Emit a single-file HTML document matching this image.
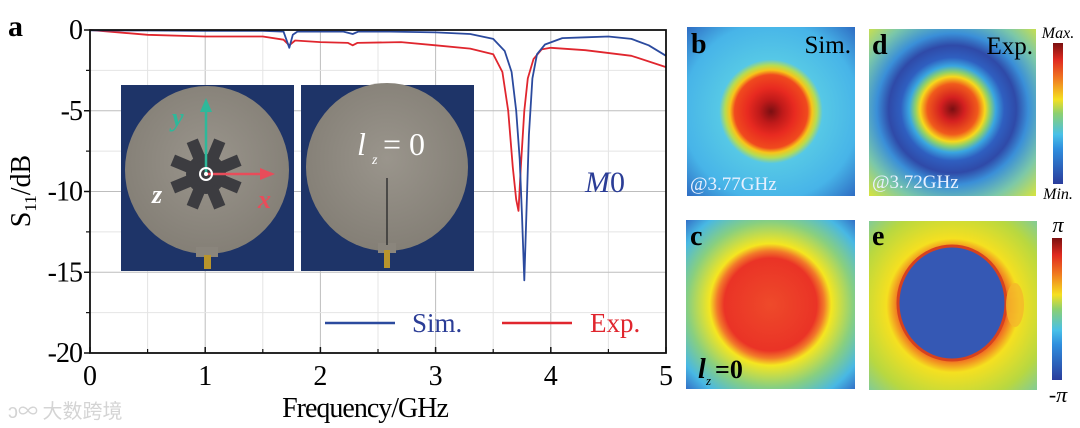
<!DOCTYPE html>
<html><head><meta charset="utf-8"><style>
html,body{margin:0;padding:0;background:#fff;width:1080px;height:428px;overflow:hidden}
svg{display:block;font-family:"Liberation Serif",serif}
</style></head><body>
<svg width="1080" height="428" viewBox="0 0 1080 428">
<defs>
<radialGradient id="gb" cx="50%" cy="50%" r="70%">
<stop offset="0" stop-color="#7a0f12"/><stop offset="0.1" stop-color="#c01a1a"/><stop offset="0.2" stop-color="#e82a20"/><stop offset="0.31" stop-color="#f04a1e"/><stop offset="0.35" stop-color="#f7c51a"/><stop offset="0.39" stop-color="#b8dc50"/><stop offset="0.44" stop-color="#56c8e6"/><stop offset="0.75" stop-color="#47b4e8"/><stop offset="1" stop-color="#2f6fc4"/></radialGradient>
<radialGradient id="gd" cx="50%" cy="48%" r="72%">
<stop offset="0" stop-color="#7a0f12"/><stop offset="0.1" stop-color="#d42020"/><stop offset="0.21" stop-color="#f05a1c"/><stop offset="0.27" stop-color="#f7d81c"/><stop offset="0.31" stop-color="#8fd06a"/><stop offset="0.36" stop-color="#3aa6e0"/><stop offset="0.43" stop-color="#2f5fc0"/><stop offset="0.53" stop-color="#2f4aa8"/><stop offset="0.63" stop-color="#3a8fd8"/><stop offset="0.8" stop-color="#7cc8a8"/><stop offset="1" stop-color="#d8e43c"/></radialGradient>
<radialGradient id="gc" cx="50%" cy="50%" r="72%">
<stop offset="0" stop-color="#ee4a2a"/><stop offset="0.38" stop-color="#ea3326"/><stop offset="0.44" stop-color="#f2782a"/><stop offset="0.5" stop-color="#f5e620"/><stop offset="0.68" stop-color="#88cf80"/><stop offset="0.85" stop-color="#48b8e4"/><stop offset="1" stop-color="#2f66c2"/></radialGradient>
<radialGradient id="ge" cx="50%" cy="50%" r="72%">
<stop offset="0" stop-color="#d63a1e"/><stop offset="0.45" stop-color="#f06a22"/><stop offset="0.55" stop-color="#f5e020"/><stop offset="0.8" stop-color="#b8d840"/><stop offset="1" stop-color="#7ccaa0"/></radialGradient>
<linearGradient id="cb" x1="0" y1="1" x2="0" y2="0">
<stop offset="0" stop-color="#2a3c9c"/><stop offset="0.25" stop-color="#2f8ede"/><stop offset="0.35" stop-color="#48c0e8"/><stop offset="0.5" stop-color="#8cd070"/><stop offset="0.6" stop-color="#f5e020"/><stop offset="0.75" stop-color="#f07820"/><stop offset="0.88" stop-color="#e02a20"/><stop offset="1" stop-color="#7a1010"/></linearGradient>
<radialGradient id="plate" cx="50%" cy="45%" r="60%"><stop offset="0" stop-color="#9a958c"/><stop offset="1" stop-color="#827d74"/></radialGradient>
</defs>

<g id="chart">
<g id="grid"></g>
<g id="photos">
 <rect x="121" y="85" width="173" height="186" fill="#1e3468"/>
 <ellipse cx="207" cy="170" rx="82" ry="84" fill="url(#plate)"/>
 <rect x="196" y="247" width="22" height="10" fill="#8a857c"/>
 <rect x="204" y="255" width="7" height="14" fill="#b8942c"/>
 <g transform="translate(206,174)" fill="#3c3c40">
  <circle r="20"/>
  <g id="spokes"></g>
 </g>
 <line x1="206" y1="174" x2="206" y2="108" stroke="#2eb89a" stroke-width="2.5"/>
 <polygon points="200,112 212,112 206,98" fill="#2eb89a"/>
 <line x1="206" y1="174" x2="263" y2="174" stroke="#e84c5a" stroke-width="2.5"/>
 <polygon points="260,168 260,180 275,174" fill="#e84c5a"/>
 <circle cx="206" cy="174" r="6" fill="none" stroke="#fff" stroke-width="2"/>
 <circle cx="206" cy="174" r="2" fill="#fff"/>
 <text x="172" y="126" font-size="26" font-style="italic" font-weight="bold" fill="#2eb89a">y</text>
 <text x="258" y="208" font-size="26" font-style="italic" font-weight="bold" fill="#e84c5a">x</text>
 <text x="152" y="203" font-size="26" font-style="italic" font-weight="bold" fill="#fff">z</text>
 <rect x="301" y="85" width="173" height="186" fill="#1e3468"/>
 <ellipse cx="387" cy="167" rx="81" ry="84" fill="url(#plate)"/>
 <rect x="378" y="243" width="18" height="10" fill="#8a857c"/>
 <rect x="384" y="250" width="6" height="18" fill="#b8942c"/>
 <line x1="387" y1="178" x2="387" y2="245" stroke="#333" stroke-width="1.5"/>
 <text x="357" y="155" font-size="32" font-style="italic" fill="#fff">l</text>
 <text x="372" y="164" font-size="14" font-style="italic" fill="#fff">z</text>
 <text x="383" y="155" font-size="32" fill="#fff">= 0</text>
</g>
<g id="lines"></g>
<rect x="90" y="30" width="576" height="323" fill="none" stroke="#111" stroke-width="1.8"/>
<g id="axes"></g>
<text x="585" y="192" font-size="30" font-style="italic" fill="#2b3d96">M<tspan font-style="normal">0</tspan></text>
<g>
 <line x1="325" y1="323" x2="395" y2="323" stroke="#2b4a9e" stroke-width="2.5"/>
 <text x="412" y="332" font-size="27" fill="#2b3d96">Sim.</text>
 <line x1="502" y1="323" x2="572" y2="323" stroke="#e0262e" stroke-width="2.5"/>
 <text x="590" y="332" font-size="27" fill="#e0262e">Exp.</text>
</g>
<text x="8" y="36" font-size="30" font-weight="bold">a</text>
<text x="365" y="417" font-size="28" text-anchor="middle" letter-spacing="-1">Frequency/GHz</text>
<text transform="translate(30,191) rotate(-90)" font-size="28" text-anchor="middle">S<tspan font-size="17" dy="6">11</tspan><tspan dy="-6">/dB</tspan></text>
<text x="8" y="418" font-size="20" fill="#d4d4d4" font-family="'Noto Sans CJK SC',sans-serif">ↄ∞ 大数跨境</text>
</g>

<rect x="687" y="27" width="168" height="169" fill="url(#gb)"/>
<text x="691" y="53" font-size="28" font-weight="bold">b</text>
<text x="851" y="53" font-size="25" text-anchor="end">Sim.</text>
<text x="690" y="190" font-size="19" fill="#e8f0ff">@3.77GHz</text>
<rect x="869" y="29" width="167" height="167" fill="url(#gd)"/>
<text x="872" y="54" font-size="28" font-weight="bold">d</text>
<text x="1033" y="54" font-size="25" text-anchor="end">Exp.</text>
<text x="872" y="188" font-size="19" fill="#e8f0ff">@3.72GHz</text>
<rect x="1053" y="43" width="10" height="141" fill="url(#cb)"/>
<text x="1058" y="38" font-size="16" font-style="italic" text-anchor="middle">Max.</text>
<text x="1058" y="199" font-size="16" font-style="italic" text-anchor="middle">Min.</text>
<rect x="686" y="220" width="169" height="169" fill="url(#gc)"/>
<text x="690" y="245" font-size="28" font-weight="bold">c</text>
<text x="698" y="378" font-size="28" font-weight="bold" font-style="italic">l</text>
<text x="706" y="385" font-size="13" font-style="italic">z</text>
<text x="715" y="378" font-size="26" font-weight="bold">=0</text>
<rect x="869" y="221" width="168" height="169" fill="url(#ge)"/>
<ellipse cx="952" cy="303" rx="54" ry="57" fill="#3558b4" stroke="#d6421e" stroke-width="3"/>
<ellipse cx="1015" cy="305" rx="9" ry="22" fill="#f4b82a" opacity="0.8"/>
<text x="872" y="245" font-size="28" font-weight="bold">e</text>
<rect x="1052" y="238" width="10" height="142" fill="url(#cb)"/>
<text x="1058" y="232" font-size="22" font-style="italic" text-anchor="middle">π</text>
<text x="1058" y="402" font-size="22" font-style="italic" text-anchor="middle">-π</text>
</svg>
<script>
const xTicks=[0,1,2,3,4,5];
const yTicks=[0,-5,-10,-15,-20];
const simFreq=[0,0.5,1,1.5,1.68,1.73,1.76,1.8,2.2,2.28,2.33,2.6,3,3.3,3.5,3.6,3.66,3.7,3.73,3.75,3.77,3.79,3.81,3.84,3.88,3.95,4.1,4.3,4.5,4.7,4.85,5];
const simS11=[-0.02,-0.03,-0.05,-0.05,-0.1,-1.1,-0.3,-0.1,-0.1,-0.25,-0.1,-0.1,-0.15,-0.25,-0.55,-1.3,-2.6,-5,-8,-11.5,-15.5,-11,-6.5,-3,-1.5,-0.9,-0.5,-0.45,-0.4,-0.55,-0.95,-1.6];
const expFreq=[0,0.5,1,1.5,1.68,1.73,1.78,2,2.24,2.28,2.32,2.7,3,3.3,3.5,3.58,3.63,3.67,3.7,3.72,3.74,3.77,3.8,3.85,3.92,4,4.3,4.7,5];
const expS11=[0,-0.3,-0.4,-0.4,-0.6,-0.95,-0.65,-0.75,-0.8,-0.95,-0.8,-0.75,-0.95,-1.15,-1.5,-2.6,-5,-8.5,-10.5,-11.2,-8.5,-5,-3,-1.8,-1.2,-1.1,-1.25,-1.6,-2.3];
const NS='http://www.w3.org/2000/svg';
const X0=90,X1=666,Y0=30,Y1=353;
const xs=v=>X0+(v-0)/(5-0)*(X1-X0);
const ys=v=>Y0+(0-v)/20*(Y1-Y0);
function mk(tag,attrs,parent){const e=document.createElementNS(NS,tag);for(const k in attrs)e.setAttribute(k,attrs[k]);parent.appendChild(e);return e;}
const grid=document.getElementById('grid'),axes=document.getElementById('axes'),lines=document.getElementById('lines');
for(let i=1;i<10;i++){const v=i*0.5;const g=mk('line',{x1:xs(v),x2:xs(v),y1:Y0,y2:Y1,stroke:i%2?'#e4e4e4':'#bdbdbd','stroke-width':1},grid);

}
for(let i=1;i<8;i++){const v=-i*2.5;const g=mk('line',{x1:X0,x2:X1,y1:ys(v),y2:ys(v),stroke:i%2?'#e4e4e4':'#bdbdbd','stroke-width':1},grid);

}
xTicks.forEach(v=>{mk('line',{x1:xs(v),x2:xs(v),y1:Y1,y2:Y1-6,stroke:'#111','stroke-width':1.5},axes);
const t=mk('text',{x:xs(v),y:385,'font-size':28,'text-anchor':'middle'},axes);t.textContent=v;

});
for(let i=1;i<10;i+=2)mk('line',{x1:xs(i*0.5),x2:xs(i*0.5),y1:Y1,y2:Y1-4,stroke:'#111','stroke-width':1.2},axes);
yTicks.forEach(v=>{mk('line',{x1:X0-6,x2:X0,y1:ys(v),y2:ys(v),stroke:'#111','stroke-width':1.5},axes);
const t=mk('text',{x:X0-8,y:ys(v)+9,'font-size':28,'text-anchor':'end','letter-spacing':'-1'},axes);t.textContent=v;

});
for(let i=1;i<8;i+=2)mk('line',{x1:X0-4,x2:X0,y1:ys(-i*2.5),y2:ys(-i*2.5),stroke:'#111','stroke-width':1.2},axes);
function path(fx,fy,color,name){const d=fx.map((f,i)=>(i?'L':'M')+xs(f).toFixed(1)+','+ys(fy[i]).toFixed(1)).join('');
const p=mk('path',{d:d,fill:'none',stroke:color,'stroke-width':1.8,'stroke-linejoin':'round'},lines);

}
path(expFreq,expS11,'#e0262e','exp-line');
path(simFreq,simS11,'#2b4a9e','sim-line');
const sp=document.getElementById('spokes');
for(let i=0;i<8;i++){mk('rect',{x:-6,y:-36,width:12,height:22,transform:'rotate('+(i*45+22.5)+')'},sp);}
</script>
</body></html>
